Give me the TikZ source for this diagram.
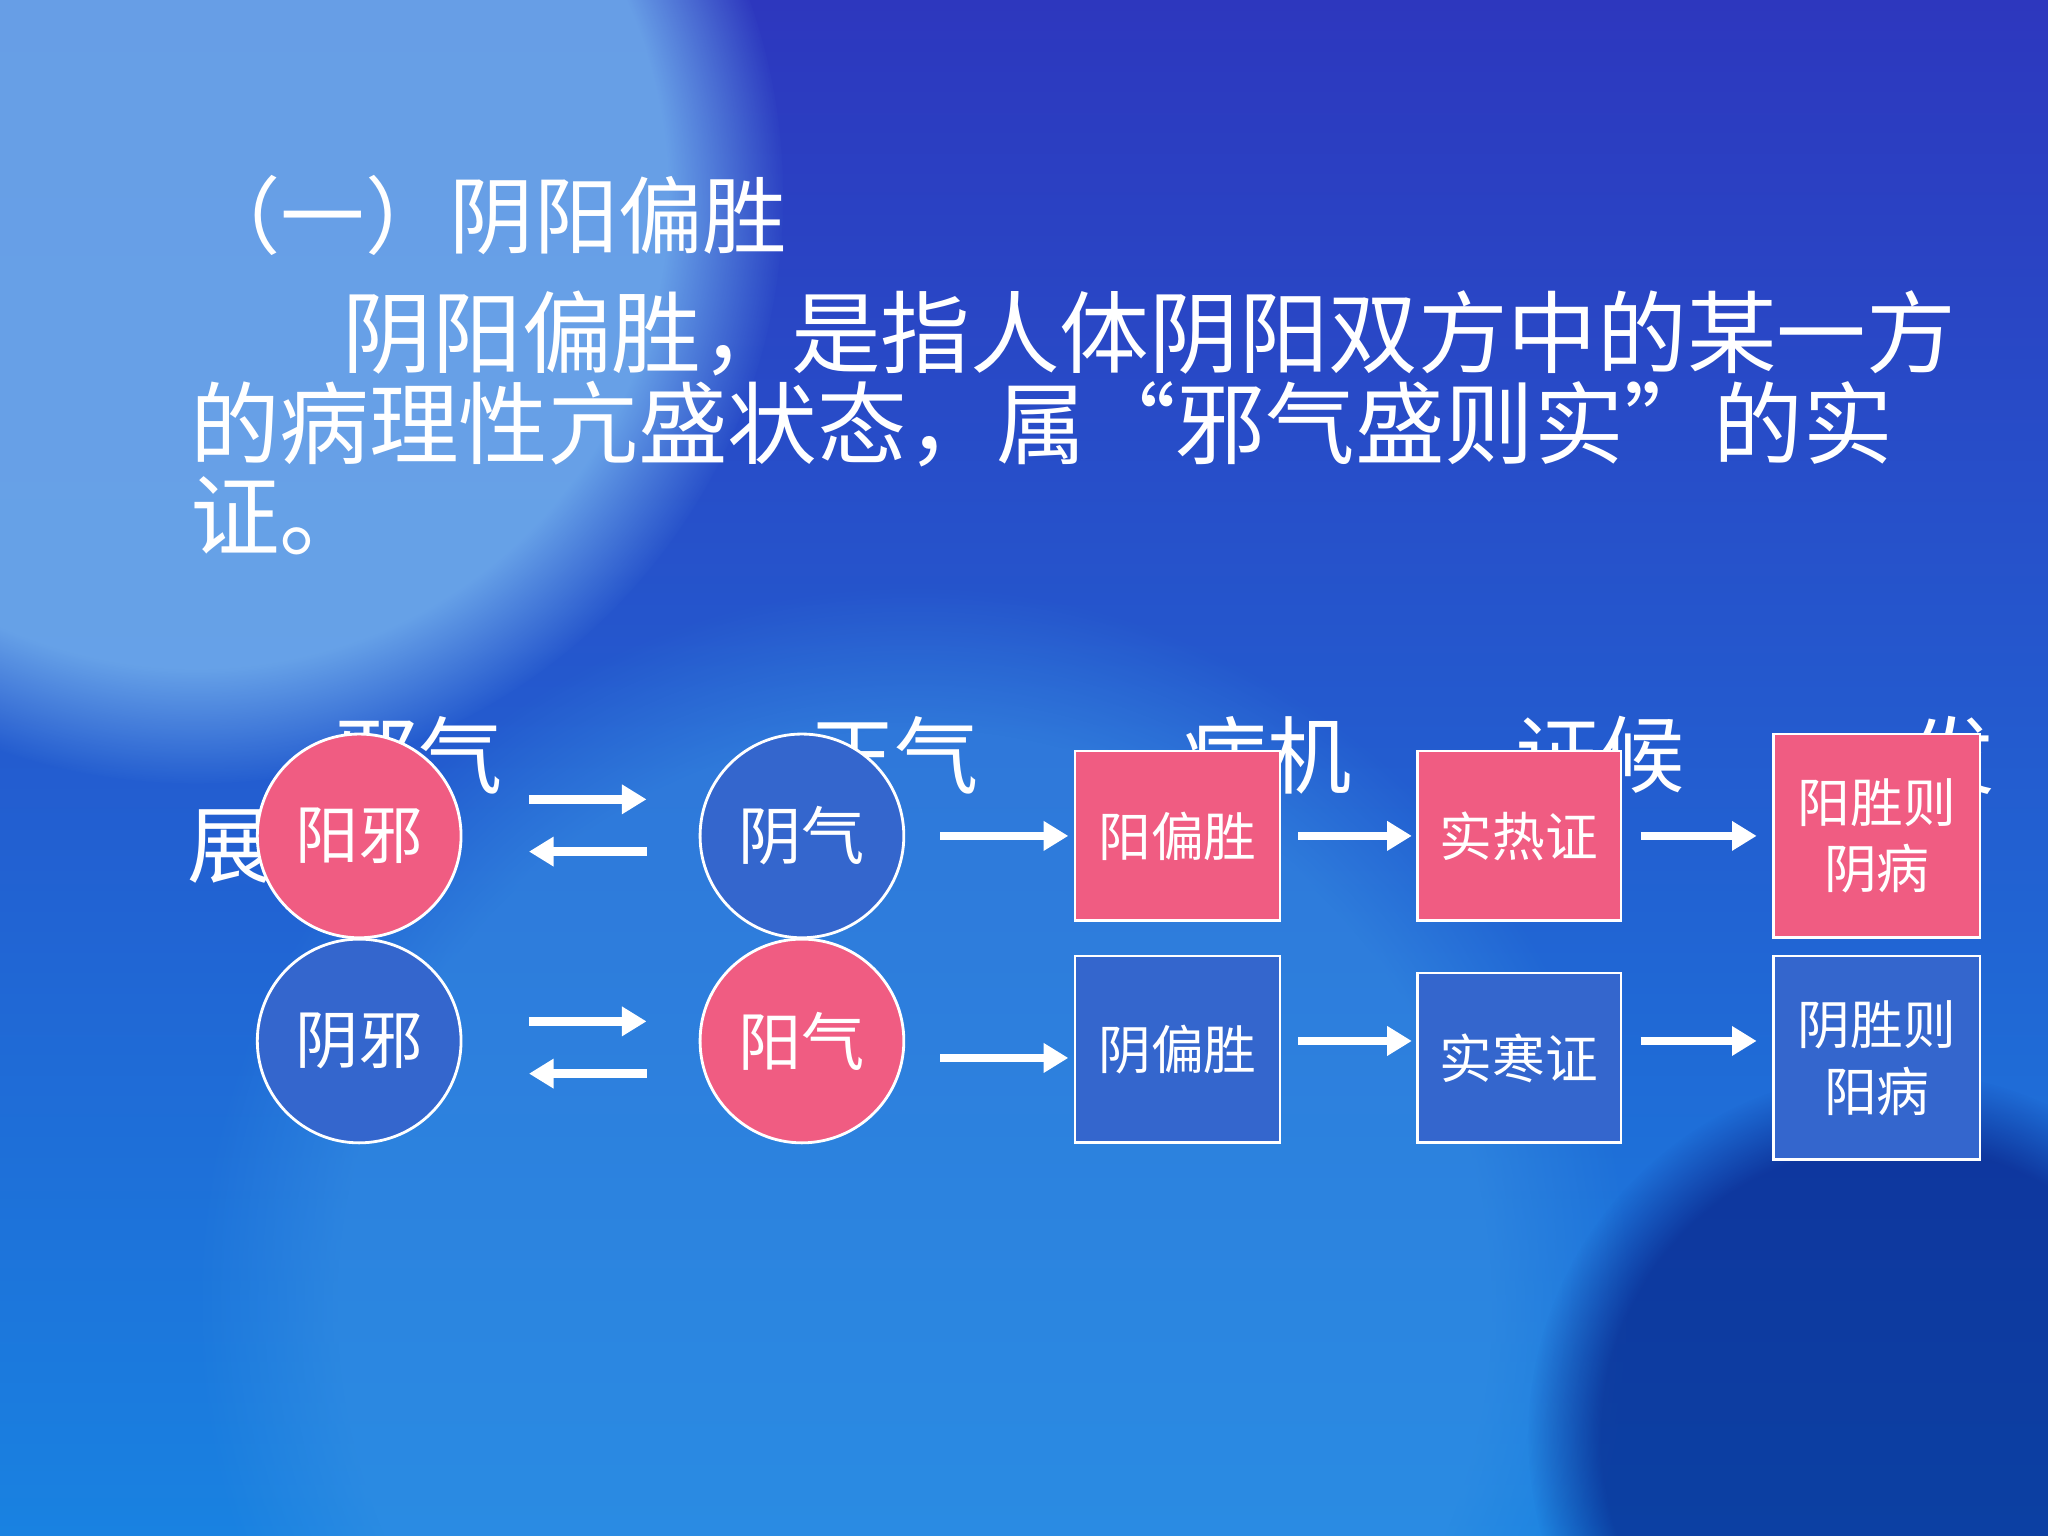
\documentclass[tikz,border=0pt]{standalone}
\usepackage{fontspec}
\setmainfont{Noto Sans CJK SC}
\usetikzlibrary{arrows.meta,fadings}
\definecolor{bgtop}{RGB}{45,55,190}
\definecolor{bgbot}{RGB}{25,130,225}
\definecolor{lb}{RGB}{110,170,235}
\definecolor{pinkc}{RGB}{240,92,130}
\definecolor{bluec}{RGB}{52,102,205}
\tikzset{
  circ/.style={circle,draw=white,thick,minimum size={156*0.013061cm},inner sep=0pt,text=white,font=\fontsize{18}{20}\selectfont},
  boxs/.style={rectangle,draw=white,thick,inner sep=0pt,text=white,font=\fontsize{15}{19}\selectfont,align=center},
  arr/.style={white,line width=2.5pt,-{Triangle[length=7pt,width=8pt]}},
  hdr/.style={text=white,font=\fontsize{24}{24}\selectfont,anchor=west,inner sep=0pt},
  txt/.style={text=white,font=\fontsize{25.5}{26}\selectfont,anchor=west,inner sep=0pt},
  glow/.style={path fading=circle with fuzzy edge 20 percent}
}
\begin{document}
\begin{tikzpicture}[x=0.013061cm,y=-0.013061cm]
\useasboundingbox (0,0) rectangle (1568,1176);
\shade[top color=bgtop,bottom color=bgbot] (0,0) rectangle (1568,1176);
\fill[lb,opacity=0.9,glow] (150,150) circle (450);
\fill[bgbot!85!white,opacity=0.5,glow] (700,1000) circle (550);
\fill[black!60!blue,opacity=0.5,glow] (1450,1100) circle (280);
\node[txt,font=\fontsize{24}{24}\selectfont] (title) at (150,165) {（一）阴阳偏胜};
\node[txt] (l1) at (262,255) {阴阳偏胜，是指人体阴阳双方中的某一方};
\node[txt] (l2) at (145,325) {的病理性亢盛状态，属“邪气盛则实”的实};
\node[txt] (l3) at (145,395) {证。};
\node[hdr] (h1) at (255,578) {邪气};
\node[hdr] (h2) at (620,578) {正气};
\node[hdr] (h3) at (905,578) {病机};
\node[hdr] (h4) at (1160,578) {证候};
\node[hdr] (h5) at (1462,578) {发};
\node[hdr] (h6) at (143,648) {展};
\node[circ,fill=pinkc] (yx) at (275,640) {阳邪};
\node[circ,fill=bluec] (yq) at (614,640) {阴气};
\node[circ,fill=bluec] (yinx) at (275,797) {阴邪};
\node[circ,fill=pinkc] (yangq) at (614,797) {阳气};
\coordinate (a1) at (405,612); \coordinate (b1) at (495,612);
\coordinate (a2) at (405,652); \coordinate (b2) at (495,652);
\coordinate (a3) at (405,782); \coordinate (b3) at (495,782);
\coordinate (a4) at (405,822); \coordinate (b4) at (495,822);
\draw[arr] (a1) -- (b1);
\draw[arr] (b2) -- (a2);
\draw[arr] (a3) -- (b3);
\draw[arr] (b4) -- (a4);
\node[boxs,fill=pinkc,minimum width={157*0.013061cm},minimum height={130*0.013061cm}] (p1) at (901.5,640) {阳偏胜};
\node[boxs,fill=bluec,minimum width={157*0.013061cm},minimum height={143*0.013061cm}] (p2) at (901.5,803.5) {阴偏胜};
\node[boxs,fill=pinkc,minimum width={156*0.013061cm},minimum height={130*0.013061cm}] (z1) at (1163,640) {实热证};
\node[boxs,fill=bluec,minimum width={156*0.013061cm},minimum height={130*0.013061cm}] (z2) at (1163,810) {实寒证};
\node[boxs,fill=pinkc,minimum width={158*0.013061cm},minimum height={156*0.013061cm}] (f1) at (1437,640) {阳胜则\\阴病};
\node[boxs,fill=bluec,minimum width={158*0.013061cm},minimum height={156*0.013061cm}] (f2) at (1437,810) {阴胜则\\阳病};
\coordinate (c1) at (720,640); \coordinate (c2) at (720,810);
\draw[arr] (c1) -- ([xshift=-4*0.013061cm]p1.west);
\draw[arr] (c2) -- ([xshift=-4*0.013061cm]p2.west |- c2);
\draw[arr] ([xshift=13*0.013061cm]p1.east) -- ([xshift=-3*0.013061cm]z1.west);
\draw[arr] ([xshift=13*0.013061cm]p2.east |- 0,797) -- ([xshift=-3*0.013061cm]z2.west |- 0,797);
\draw[arr] ([xshift=14*0.013061cm]z1.east) -- ([xshift=-12*0.013061cm]f1.west);
\draw[arr] ([xshift=14*0.013061cm]z2.east |- 0,797) -- ([xshift=-12*0.013061cm]f2.west |- 0,797);
\end{tikzpicture}
\end{document}
